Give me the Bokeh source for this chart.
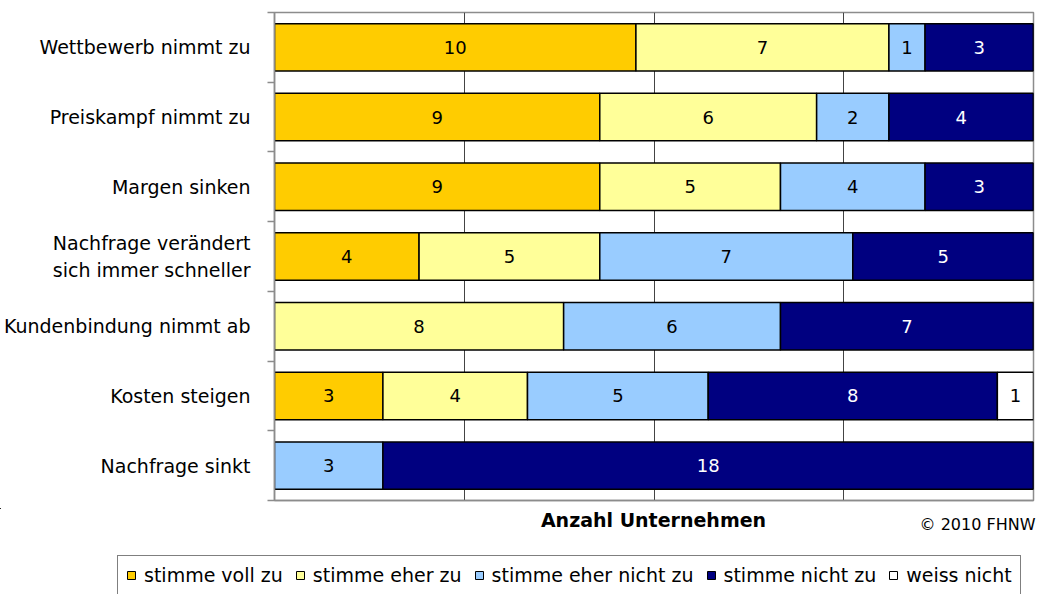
from bokeh.plotting import figure
from bokeh.layouts import column
from bokeh.models import (ColumnDataSource, Range1d, FixedTicker, Legend, LegendItem, Label)
from bokeh.core.properties import value
from bokeh.embed import file_html
from bokeh.resources import INLINE

# ---- data ----
categories = [
    "Wettbewerb nimmt zu",
    "Preiskampf nimmt zu",
    "Margen sinken",
    "Nachfrage verändert\nsich immer schneller",
    "Kundenbindung nimmt ab",
    "Kosten steigen",
    "Nachfrage sinkt",
]
series_names = ["stimme voll zu", "stimme eher zu", "stimme eher nicht zu",
                "stimme nicht zu", "weiss nicht"]
voll_zu = [10, 9, 9, 4, 0, 3, 0]
eher_zu = [7, 6, 5, 5, 8, 4, 0]
eher_nicht_zu = [1, 2, 4, 7, 6, 5, 3]
nicht_zu = [3, 4, 3, 5, 7, 8, 18]
weiss_nicht = [0, 0, 0, 0, 0, 1, 0]
series_values = [voll_zu, eher_zu, eher_nicht_zu, nicht_zu, weiss_nicht]
colors = ["#FFCC00", "#FFFF99", "#99CCFF", "#000080", "#FFFFFF"]
label_colors = ["black", "black", "black", "white", "black"]
x_axis_title = "Anzahl Unternehmen"
copyright_text = "© 2010 FHNW"

FONT = "DejaVu Sans"
n = len(categories)
total = max(sum(s[i] for s in series_values) for i in range(n))
ypos = [n - 1 - i for i in range(n)]

W = 1039
LEFT, RIGHT = 273, 6
p = figure(width=W, height=508, output_backend="svg", toolbar_location=None,
           x_range=Range1d(0, total), y_range=Range1d(-0.5, n - 0.5),
           min_border_left=LEFT, min_border_right=RIGHT, min_border_top=12, min_border_bottom=8)
p.frame_align = False
p.background_fill_color = "white"
p.border_fill_color = "white"
p.outline_line_color = "#8c8c8c"
p.outline_line_width = 1.5

# stacked bars
left = [0] * n
sources = []
tx, ty, tt, tc = [], [], [], []
for vals, col, lc in zip(series_values, colors, label_colors):
    right = [l + v for l, v in zip(left, vals)]
    src = ColumnDataSource(dict(y=ypos, left=left, right=right))
    sources.append(src)
    p.hbar(y="y", left="left", right="right", height=0.68, source=src,
           fill_color=col, line_color="black", line_width=1.5)
    for i, v in enumerate(vals):
        if v > 0:
            tx.append((left[i] + right[i]) / 2)
            ty.append(ypos[i])
            tt.append(str(v))
            tc.append(lc)
    left = right

p.text(x=tx, y=ty, text=tt, text_color=tc, text_font=value(FONT),
       text_font_size="18px", text_align="center", text_baseline="middle")

# grid
grid_ticks = [total * k / 4 for k in range(5)]
p.xgrid.ticker = FixedTicker(ticks=grid_ticks)
p.xgrid.grid_line_color = "#444444"
p.xgrid.grid_line_width = 1
p.ygrid.grid_line_color = None

# x axis (line only; its title sits in the strip below)
p.xaxis.ticker = FixedTicker(ticks=grid_ticks)
p.xaxis.major_label_overrides = {t: "" for t in grid_ticks}
p.xaxis.major_label_text_font_size = "0px"
p.xaxis.major_label_standoff = 0
p.xaxis.major_tick_out = 0
p.xaxis.major_tick_in = 0
p.xaxis.minor_tick_out = 0
p.xaxis.minor_tick_in = 0
p.xaxis.axis_line_color = "#8c8c8c"
p.xaxis.axis_line_width = 1.5

# y axis
p.yaxis.ticker = FixedTicker(ticks=ypos, minor_ticks=[k - 0.5 for k in range(n + 1)])
p.yaxis.major_label_overrides = {y: c for y, c in zip(ypos, categories)}
p.yaxis.major_label_text_font = FONT
p.yaxis.major_label_text_font_size = "19px"
p.yaxis.major_label_text_color = "black"
p.yaxis.major_label_standoff = 17
p.yaxis.major_tick_out = 0
p.yaxis.major_tick_in = 0
p.yaxis.minor_tick_out = 7
p.yaxis.minor_tick_in = 0
p.yaxis.minor_tick_line_color = "#8c8c8c"
p.yaxis.minor_tick_line_width = 1.5
p.yaxis.axis_line_color = "#8c8c8c"
p.yaxis.axis_line_width = 1.5

# ---- strip below: axis title, copyright and legend (pixel-mapped ranges) ----
H2 = 86
X0 = 500                 # keeps the legend proxies' bars out of view
Y0 = -(H2 + 300)
p2 = figure(width=W, height=H2, output_backend="svg", toolbar_location=None,
            x_range=Range1d(X0, X0 + W), y_range=Range1d(Y0, Y0 + H2),
            x_axis_location=None, y_axis_location=None,
            min_border_left=0, min_border_right=0, min_border_top=0, min_border_bottom=0)
p2.frame_align = False
p2.outline_line_color = None
p2.xgrid.visible = False
p2.ygrid.visible = False
p2.background_fill_color = "white"
p2.border_fill_color = "white"

frame_center = LEFT + (W - RIGHT - LEFT) / 2
p2.add_layout(Label(x=X0 + frame_center, y=Y0 + H2 - 11, text=x_axis_title,
                    text_font=FONT, text_font_size="19px", text_font_style="bold",
                    text_align="center", text_baseline="middle", text_color="black"))
p2.add_layout(Label(x=X0 + 1035, y=Y0 + H2 - 16, text=copyright_text,
                    text_font=FONT, text_font_size="16px",
                    text_align="right", text_baseline="middle", text_color="black"))

legend_renderers = []
for src, col in zip(sources, colors):
    r2 = p2.hbar(y="y", left="left", right="right", height=0.68, source=src,
                 fill_color=col, line_color="black", line_width=1)
    legend_renderers.append(r2)

legend = Legend(items=[LegendItem(label=s, renderers=[r]) for s, r in zip(series_names, legend_renderers)],
                orientation="horizontal", location=(117, -1),
                label_text_font=FONT, label_text_font_size="19px", label_text_color="black",
                glyph_width=10, glyph_height=10, label_standoff=8, spacing=12,
                padding=8, margin=0, border_line_color="black", border_line_width=1,
                background_fill_color="white", background_fill_alpha=1,
                label_height=20)
p2.add_layout(legend, "center")

layout = column(p, p2, spacing=0)
open("out.html", "w").write(file_html(layout, INLINE))
